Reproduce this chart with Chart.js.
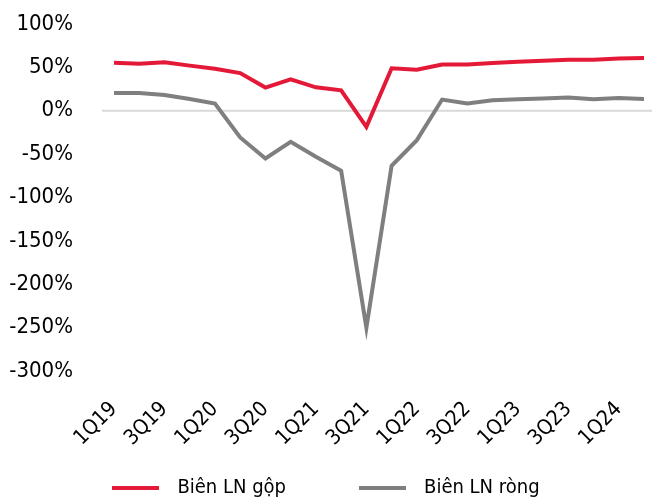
<!DOCTYPE html>
<html>
<head>
<meta charset="utf-8">
<script src="https://cdn.jsdelivr.net/npm/chart.js@4"></script>
<style>
  html, body { margin: 0; padding: 0; background: #fff; }
  #wrap { width: 652px; height: 504px; }
</style>
</head>
<body>
<div id="wrap"><canvas id="chart"></canvas></div>
<script>
const quarters = ['1Q19','2Q19','3Q19','4Q19','1Q20','2Q20','3Q20','4Q20','1Q21','2Q21','3Q21','4Q21',
                  '1Q22','2Q22','3Q22','4Q22','1Q23','2Q23','3Q23','4Q23','1Q24','2Q24'];
const bienGop  = [55.4, 54.3, 56, 52, 48.5, 43.4, 26.7, 36.2, 27, 23.5, -18.6, 49,
                  47.3, 53.4, 53.4, 55, 56.5, 57.7, 58.8, 58.8, 60.3, 60.7];
const bienRong = [20.5, 20.5, 18.2, 13.5, 8.3, -30.8, -55, -35.9, -53, -69.2, -250, -63.4,
                  -33.9, 12.9, 8.3, 12, 13.2, 14, 15.2, 13.2, 14.7, 13.6];
const yTicks = [100, 50, 0, -50, -100, -150, -200, -250, -300];

const FONT = "'DejaVu Sans Condensed', 'DejaVu Sans', sans-serif";
const RED = '#E31937';
const GREY = '#7F7F7F';

// mau duong trong chu thich: 47x4, dat trong o 63px de chu cach xa hon
function legendLine(color) {
    const c = document.createElement('canvas');
    c.width = 47;
    c.height = 4;
    const g = c.getContext('2d');
    g.fillStyle = color;
    g.fillRect(0, 0, 47, 4);
    return c;
}

// duong 0% keo dai sang trai nhu ban goc
const zeroLine = {
    id: 'zeroLine',
    beforeDatasetsDraw(chart) {
        const y = chart.scales.y.getPixelForValue(0);
        const ctx = chart.ctx;
        ctx.save();
        ctx.strokeStyle = '#d9d9d9';
        ctx.lineWidth = 2;
        ctx.beginPath();
        ctx.moveTo(102, y);
        ctx.lineTo(652, y);
        ctx.stroke();
        ctx.restore();
    }
};

new Chart(document.getElementById('chart'), {
    type: 'line',
    data: {
        labels: quarters,
        datasets: [{
            label: 'Biên LN gộp',
            data: bienGop,
            borderColor: RED,
            backgroundColor: RED,
            borderWidth: 4,
            pointRadius: 0,
            tension: 0
        }, {
            label: 'Biên LN ròng',
            data: bienRong,
            borderColor: GREY,
            backgroundColor: GREY,
            borderWidth: 4,
            pointRadius: 0,
            tension: 0
        }]
    },
    options: {
        responsive: true,
        maintainAspectRatio: false,
        animation: false,
        layout: { padding: { top: 24, right: 8, left: 0, bottom: -4 } },
        plugins: {
            tooltip: { enabled: false },
            legend: {
                position: 'bottom',
                labels: {
                    color: '#000',
                    font: { family: FONT, size: 20 },
                    usePointStyle: true,
                    pointStyleWidth: 63,
                    boxHeight: 4,
                    padding: 65,
                    generateLabels(chart) {
                        const items = Chart.defaults.plugins.legend.labels.generateLabels(chart);
                        items.forEach((it, i) => {
                            it.pointStyle = legendLine(i === 0 ? RED : GREY);
                            it.lineWidth = 0;
                        });
                        return items;
                    }
                }
            }
        },
        scales: {
            x: {
                offset: false,
                grid: { display: false, drawTicks: false },
                border: { display: false },
                afterFit(scale) {
                    scale.paddingLeft = 0;
                    scale.paddingRight = 0;
                    scale.height = 42;
                    // nhan xoay dai hon hop truc, khong cat
                    scale._computeLabelArea = () => undefined;
                },
                ticks: {
                    autoSkip: false,
                    maxRotation: 45,
                    minRotation: 45,
                    padding: 26,
                    color: '#000',
                    font: { family: FONT, size: 21 },
                    callback(val, i) { return i % 2 === 0 ? quarters[i] : ''; }
                }
            },
            y: {
                min: -300,
                max: 100,
                afterBuildTicks(scale) { scale.ticks = yTicks.map(v => ({ value: v })); },
                grid: { display: false, drawTicks: false },
                border: { display: false },
                afterFit(scale) { scale.width = 114; scale.paddingTop = 0; scale.paddingBottom = 0; },
                ticks: {
                    padding: 41,
                    color: '#000',
                    font: { family: FONT, size: 22 },
                    callback(v) { return v + '%'; }
                }
            }
        }
    },
    plugins: [zeroLine]
});
</script>
</body>
</html>
